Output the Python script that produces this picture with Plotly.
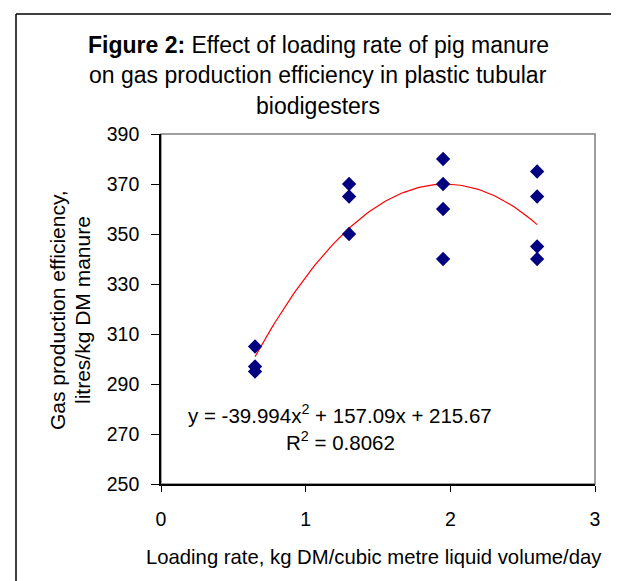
import plotly.graph_objects as go
import numpy as np

# Data
loading_rate = [0.65, 0.65, 0.65, 1.3, 1.3, 1.3, 1.95, 1.95, 1.95, 1.95, 2.6, 2.6, 2.6, 2.6]
gas_eff = [305, 297, 295, 370, 365, 350, 380, 370, 360, 340, 375, 365, 345, 340]
trend_coef = [-39.994, 157.09, 215.67]  # y = a x^2 + b x + c
trend_x_range = [0.65, 2.6]
x_ticks = [0, 1, 2, 3]
y_ticks = [250, 270, 290, 310, 330, 350, 370, 390]

FONT = "Liberation Sans, Arial, sans-serif"

tx = np.linspace(trend_x_range[0], trend_x_range[1], 100)
ty = np.polyval(trend_coef, tx)

fig = go.Figure()
fig.add_trace(go.Scatter(x=tx, y=ty, mode="lines",
                         line=dict(color="#ff0000", width=1.2), hoverinfo="skip"))
fig.add_trace(go.Scatter(x=loading_rate, y=gas_eff, mode="markers",
                         marker=dict(symbol="diamond", size=11, color="#000080",
                                     line=dict(width=0))))

OFF = 8  # page body margin of the html page
W, H = 619, 581
# plot area in window pixels: left 161, right 595, top 134, bottom 484
L = 161 - OFF
T = 134 - OFF
R = W - (595 - OFF)
B = H - (484 - OFF)

def px_x(x):
    return (x - OFF - L) / (W - L - R)

def px_y(y):
    return (H - B - (y - OFF)) / (H - T - B)

fig.update_layout(
    width=W, height=H,
    margin=dict(l=L, r=R, t=T, b=B),
    paper_bgcolor="white", plot_bgcolor="white",
    showlegend=False,
    font=dict(family=FONT, size=19, color="#000000"),
    xaxis=dict(range=[0, 3], tickvals=x_ticks, showgrid=False, zeroline=False,
               showline=True, linecolor="#000000", linewidth=1.6,
               ticks="outside", ticklen=6, tickcolor="#000000", tickwidth=1.3,
               tickfont=dict(size=19.5, family=FONT), ticklabelstandoff=11),
    yaxis=dict(range=[250, 390], tickvals=y_ticks, showgrid=False, zeroline=False,
               showline=True, linecolor="#000000", linewidth=1.6,
               ticks="outside", ticklen=8, tickcolor="#000000", tickwidth=1.3,
               tickfont=dict(size=19.5, family=FONT), ticklabelstandoff=8),
    shapes=[
        dict(type="rect", xref="paper", yref="paper", x0=0, y0=0, x1=1, y1=1,
             line=dict(color="#808080", width=1.5), layer="below"),
        dict(type="line", xref="paper", yref="paper",
             x0=px_x(16), x1=px_x(16), y0=px_y(14), y1=px_y(600),
             line=dict(color="#000000", width=1.5)),
        dict(type="line", xref="paper", yref="paper",
             x0=px_x(16), x1=px_x(640), y0=px_y(14), y1=px_y(14),
             line=dict(color="#000000", width=1.5)),
    ],
)

ann = []
title_lines = ["<b>Figure 2:</b> Effect of loading rate of pig manure",
               "on gas production efficiency in plastic tubular",
               "biodigesters"]
title_y = [45, 75, 106]
for t, yy in zip(title_lines, title_y):
    ann.append(dict(text=t, xref="paper", yref="paper", x=px_x(318), y=px_y(yy),
                    xanchor="center", yanchor="middle", showarrow=False,
                    font=dict(size=23, family=FONT)))
ytitle = ["Gas production efficiency,", "litres/kg DM manure"]
for i, t in enumerate(ytitle):
    ann.append(dict(text=t, xref="paper", yref="paper", x=px_x(57 + 25 * i), y=px_y(310),
                    xanchor="center", yanchor="middle", showarrow=False, textangle=-90,
                    font=dict(size=21, family=FONT)))
ann.append(dict(text="Loading rate, kg DM/cubic metre liquid volume/day", xref="paper",
                yref="paper", x=px_x(374), y=px_y(557), xanchor="center", yanchor="middle",
                showarrow=False, font=dict(size=20.3, family=FONT)))
ann.append(dict(text="y = -39.994x<sup>2</sup> + 157.09x + 215.67", xref="paper", yref="paper",
                x=px_x(340), y=px_y(414), xanchor="center", yanchor="middle", showarrow=False,
                font=dict(size=20.5, family=FONT)))
ann.append(dict(text="R<sup>2</sup> = 0.8062", xref="paper", yref="paper",
                x=px_x(340), y=px_y(441), xanchor="center", yanchor="middle", showarrow=False,
                font=dict(size=20.5, family=FONT)))
fig.update_layout(annotations=ann)

fig.write_html("out.html")
